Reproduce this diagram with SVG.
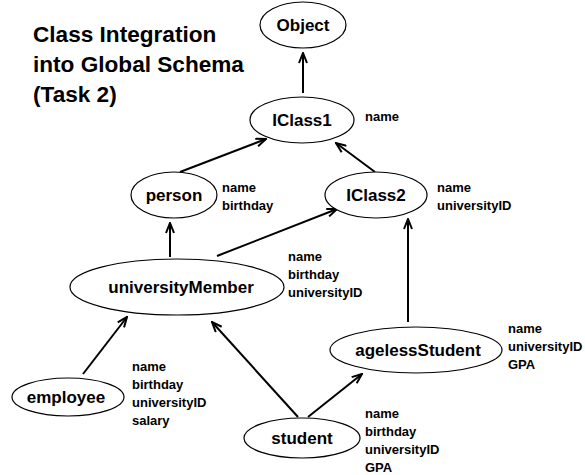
<svg xmlns="http://www.w3.org/2000/svg" width="585" height="475" viewBox="0 0 585 475">
<style>
.bg{fill:#fff}
.node ellipse{fill:#fff;stroke:#000;stroke-width:1.2}
.lbl{font-family:"Liberation Sans",Arial,sans-serif;font-weight:bold;font-size:17px;text-anchor:middle;fill:#000}
.attr{font-family:"Liberation Sans",Arial,sans-serif;font-weight:bold;font-size:13px;fill:#000}
.title{font-family:"Liberation Sans",Arial,sans-serif;font-weight:bold;font-size:22.6px;fill:#000}
.edge{stroke:#000;stroke-width:2;fill:none;marker-end:url(#arr)}
</style>
<defs>
<marker id="arr" viewBox="0 0 12 10" refX="11" refY="5" markerWidth="12" markerHeight="10" markerUnits="userSpaceOnUse" orient="auto">
<path d="M1,1 L11,5 L1,9" fill="none" stroke="#000" stroke-width="2"/>
</marker>
</defs>
<rect class="bg" x="0" y="0" width="585" height="475"/>
<g id="title" class="title">
<text x="33" y="42">Class Integration</text>
<text x="33" y="72">into Global Schema</text>
<text x="33" y="102">(Task 2)</text>
</g>
<g id="connectors">
<line class="edge" x1="303" y1="93" x2="303" y2="53"/>
<line class="edge" x1="180" y1="172" x2="266" y2="139"/>
<line class="edge" x1="375" y1="172" x2="336" y2="143"/>
<line class="edge" x1="170" y1="257" x2="170" y2="223"/>
<line class="edge" x1="217" y1="256" x2="337" y2="209"/>
<line class="edge" x1="408" y1="322" x2="408" y2="219"/>
<line class="edge" x1="83" y1="374" x2="127" y2="317"/>
<line class="edge" x1="298" y1="417" x2="212" y2="322"/>
<line class="edge" x1="308" y1="417" x2="362" y2="374"/>
</g>
<g id="Object" class="node">
<ellipse cx="303" cy="25" rx="43" ry="23"/>
<text class="lbl" x="303" y="31">Object</text>
</g>
<g id="IClass1" class="node">
<ellipse cx="302" cy="120" rx="52" ry="23"/>
<text class="lbl" x="302" y="126">IClass1</text>
<text class="attr" x="365" y="121">name</text>
</g>
<g id="person" class="node">
<ellipse cx="174" cy="195" rx="43" ry="23"/>
<text class="lbl" x="174" y="201">person</text>
<text class="attr" x="222" y="192">name</text>
<text class="attr" x="222" y="210">birthday</text>
</g>
<g id="IClass2" class="node">
<ellipse cx="376" cy="195" rx="51" ry="23"/>
<text class="lbl" x="376" y="201">IClass2</text>
<text class="attr" x="437" y="192">name</text>
<text class="attr" x="437" y="210">universityID</text>
</g>
<g id="universityMember" class="node">
<ellipse cx="177" cy="287" rx="107" ry="28"/>
<text class="lbl" x="181" y="293">universityMember</text>
<text class="attr" x="288" y="261">name</text>
<text class="attr" x="288" y="279">birthday</text>
<text class="attr" x="288" y="297">universityID</text>
</g>
<g id="employee" class="node">
<ellipse cx="68" cy="397" rx="56" ry="19"/>
<text class="lbl" x="66" y="403">employee</text>
<text class="attr" x="132" y="371">name</text>
<text class="attr" x="132" y="389">birthday</text>
<text class="attr" x="132" y="407">universityID</text>
<text class="attr" x="132" y="425">salary</text>
</g>
<g id="agelessStudent" class="node">
<ellipse cx="416" cy="350" rx="86" ry="23"/>
<text class="lbl" x="418" y="356">agelessStudent</text>
<text class="attr" x="508" y="333">name</text>
<text class="attr" x="508" y="351">universityID</text>
<text class="attr" x="508" y="369">GPA</text>
</g>
<g id="student" class="node">
<ellipse cx="302" cy="438" rx="58" ry="20"/>
<text class="lbl" x="302" y="444">student</text>
<text class="attr" x="365" y="418">name</text>
<text class="attr" x="365" y="436">birthday</text>
<text class="attr" x="365" y="454">universityID</text>
<text class="attr" x="365" y="472">GPA</text>
</g>
</svg>
